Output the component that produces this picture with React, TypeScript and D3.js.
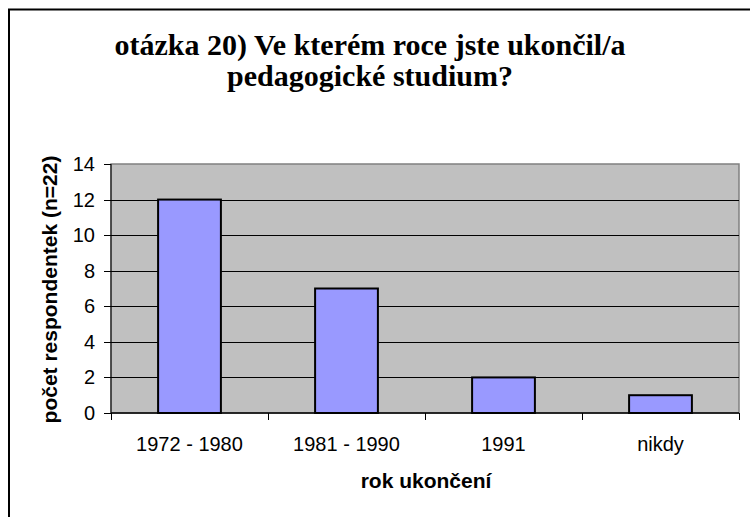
import * as d3 from "d3";
import { useEffect, useRef } from "react";

const categories = ["1972 - 1980", "1981 - 1990", "1991", "nikdy"];
const counts = [12, 7, 2, 1];
const yTicks = [0, 2, 4, 6, 8, 10, 12, 14];
const titleLines = ["otázka 20) Ve kterém roce jste ukončil/a", "pedagogické studium?"];
const xTitle = "rok ukončení";
const yTitle = "počet respondentek (n=22)";

function App() {
  const ref = useRef<SVGSVGElement>(null);

  useEffect(() => {
    document.body.style.margin = "0";
    document.body.style.overflow = "hidden";

    const svg = d3.select(ref.current);
    svg.selectAll("*").remove();

    const width = 750;
    const height = 517;
    const plot = { left: 111, right: 739, top: 164, bottom: 413 };
    const sans = "Liberation Sans, Arial, sans-serif";
    const serif = "'Times New Roman', Tinos, 'Liberation Serif', 'DejaVu Serif', 'Noto Serif', FreeSerif, serif";

    svg.attr("width", width).attr("height", height);

    svg.append("rect")
      .attr("width", width).attr("height", height).attr("fill", "#fff");

    // outer chart border: only left and top edges are in the picture
    svg.append("path")
      .attr("d", `M9,${height}V9.5H${width}`)
      .attr("fill", "none").attr("stroke", "#000").attr("stroke-width", 2);

    // title
    const title = svg.append("text")
      .attr("text-anchor", "middle")
      .style("font-family", serif)
      .attr("font-weight", "bold")
      .attr("font-size", 30);
    titleLines.forEach((line, i) => {
      title.append("tspan").attr("x", 370).attr("y", 55 + i * 31).text(line);
    });

    const x = d3.scaleBand()
      .domain(categories)
      .range([plot.left, plot.right])
      .paddingInner(0.6)
      .paddingOuter(0.3);

    const y = d3.scaleLinear().domain([0, 14]).range([plot.bottom, plot.top]);

    // plot area
    svg.append("rect")
      .attr("x", plot.left).attr("y", plot.top)
      .attr("width", plot.right - plot.left).attr("height", plot.bottom - plot.top)
      .attr("fill", "#c0c0c0").attr("stroke", "#808080").attr("stroke-width", 1.5);

    // gridlines
    svg.append("g")
      .selectAll("line")
      .data(yTicks.filter(t => t > 0 && t < 14))
      .enter()
      .append("line")
      .attr("x1", plot.left).attr("x2", plot.right)
      .attr("y1", d => Math.round(y(d)) + 0.5).attr("y2", d => Math.round(y(d)) + 0.5)
      .attr("stroke", "#000").attr("stroke-width", 1);

    // bars
    svg.append("g")
      .selectAll("rect")
      .data(counts)
      .enter()
      .append("rect")
      .attr("x", (d, i) => x(categories[i]) || 0)
      .attr("y", d => y(d))
      .attr("width", x.bandwidth())
      .attr("height", d => plot.bottom - y(d))
      .attr("fill", "#9999ff")
      .attr("stroke", "#000")
      .attr("stroke-width", 2);

    // y axis
    const yAxis = svg.append("g").attr("transform", `translate(${plot.left},0)`);
    yAxis.append("line")
      .attr("x1", 0).attr("x2", 0).attr("y1", plot.top).attr("y2", plot.bottom)
      .attr("stroke", "#000");
    yAxis.selectAll(".tick")
      .data(yTicks)
      .enter()
      .append("line")
      .attr("x1", -7).attr("x2", 0)
      .attr("y1", d => Math.round(y(d)) + 0.5).attr("y2", d => Math.round(y(d)) + 0.5)
      .attr("stroke", "#000");
    yAxis.selectAll("text")
      .data(yTicks)
      .enter()
      .append("text")
      .attr("x", -16)
      .attr("y", d => y(d) + 7)
      .attr("text-anchor", "end")
      .attr("font-family", sans)
      .attr("font-size", 20)
      .text(d => d);

    // x axis
    const step = x.step();
    const bounds = d3.range(categories.length + 1).map(i => plot.left + i * step);
    svg.append("line")
      .attr("x1", plot.left).attr("x2", plot.right)
      .attr("y1", plot.bottom).attr("y2", plot.bottom)
      .attr("stroke", "#000").attr("stroke-width", 1.5);
    svg.append("g")
      .selectAll("line")
      .data(bounds)
      .enter()
      .append("line")
      .attr("x1", d => Math.round(d) + 0.5).attr("x2", d => Math.round(d) + 0.5)
      .attr("y1", plot.bottom).attr("y2", plot.bottom + 7)
      .attr("stroke", "#000");
    svg.append("g")
      .selectAll("text")
      .data(categories)
      .enter()
      .append("text")
      .attr("x", d => (x(d) || 0) + x.bandwidth() / 2)
      .attr("y", 451)
      .attr("text-anchor", "middle")
      .attr("font-family", sans)
      .attr("font-size", 20)
      .text(d => d);

    // axis titles
    svg.append("text")
      .attr("x", (plot.left + plot.right) / 2 + 1)
      .attr("y", 488)
      .attr("text-anchor", "middle")
      .attr("font-family", sans)
      .attr("font-weight", "bold")
      .attr("font-size", 21)
      .text(xTitle);

    svg.append("text")
      .attr("transform", `translate(57,${(plot.top + plot.bottom) / 2 + 1}) rotate(-90)`)
      .attr("text-anchor", "middle")
      .attr("font-family", sans)
      .attr("font-weight", "bold")
      .attr("font-size", 21)
      .text(yTitle);
  }, []);

  return (
    <div style={{ position: "absolute", left: 0, top: 0 }}>
      <svg ref={ref} style={{ display: "block" }} />
    </div>
  );
}

export default App;
